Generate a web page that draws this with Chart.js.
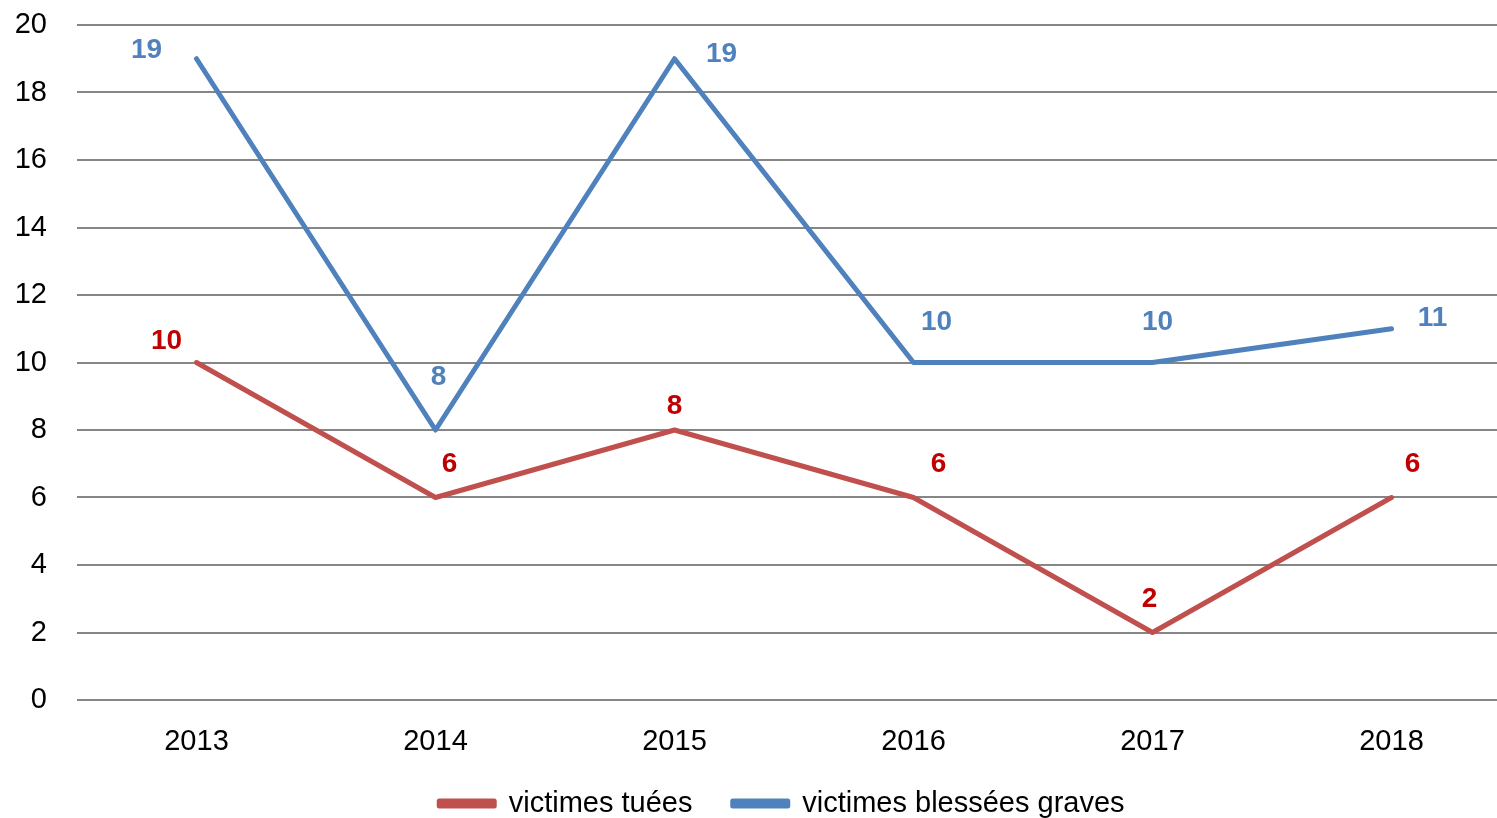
<!DOCTYPE html>
<html>
<head>
<meta charset="utf-8">
<script src="https://cdn.jsdelivr.net/npm/chart.js@4"></script>
<style>
  html, body { margin:0; padding:0; background:#fff; overflow:hidden; }
  #wrap { width:1511px; height:828px; position:relative; }
</style>
</head>
<body>
<div id="wrap"><canvas id="lineChart"></canvas></div>
<script>
// data
const years = ['2013', '2014', '2015', '2016', '2017', '2018'];
const tuees = [10, 6, 8, 6, 2, 6];
const blessees = [19, 8, 19, 10, 10, 11];
const yTicks = [0, 2, 4, 6, 8, 10, 12, 14, 16, 18, 20];

// where each value label sits relative to its point (px)
const labelOffsets = [
  [[-30,-21],[14,-33],[0,-24],[25,-33],[-3,-33],[21,-33]],
  [[-50,-8],[3,-53],[47,-4],[23,-40],[5,-40],[41,-10]]
];
const labelColors = ['#C00000', '#4F81BD'];

const FONT = "'Liberation Sans', Arial, sans-serif";

const valueLabels = {
  id: 'valueLabels',
  afterDatasetsDraw(chart){
    const ctx = chart.ctx;
    ctx.save();
    ctx.font = `bold 28px ${FONT}`;
    ctx.textAlign = 'center';
    ctx.textBaseline = 'middle';
    chart.data.datasets.forEach((ds, i) => {
      const meta = chart.getDatasetMeta(i);
      ctx.fillStyle = labelColors[i];
      meta.data.forEach((pt, j) => {
        const off = labelOffsets[i][j];
        ctx.fillText(String(ds.data[j]), pt.x + off[0], pt.y + off[1]);
      });
    });
    ctx.restore();
  }
};

const ctx = document.getElementById('lineChart').getContext('2d');
new Chart(ctx, {
  type: 'line',
  data: {
    labels: years,
    datasets: [
      { label: 'victimes tuées', data: tuees, borderColor: '#C0504D', backgroundColor: '#C0504D',
        borderWidth: 5, pointRadius: 0, tension: 0, borderCapStyle: 'round', borderJoinStyle: 'round' },
      { label: 'victimes blessées graves', data: blessees, borderColor: '#4F81BD', backgroundColor: '#4F81BD',
        borderWidth: 5, pointRadius: 0, tension: 0, borderCapStyle: 'round', borderJoinStyle: 'round' }
    ]
  },
  options: {
    responsive: true,
    maintainAspectRatio: false,
    animation: false,
    layout: { padding: { top: 25, right: 0, left: 0, bottom: 0 } },
    plugins: {
      tooltip: { enabled: false },
      legend: {
        position: 'bottom',
        fullSize: false,
        labels: {
          font: { family: FONT, size: 29 },
          color: '#000',
          boxWidth: 55,
          boxHeight: 5,
          padding: 0,
          generateLabels(chart){
            const items = Chart.defaults.plugins.legend.labels.generateLabels(chart);
            items[0].text = items[0].text + '     ';
            items[1].text = items[1].text + '   ';
            return items;
          }
        }
      }
    },
    scales: {
      x: {
        offset: true,
        afterFit(scale){ scale.height = 89; },
        grid: { display: false, drawTicks: false },
        border: { display: false },
        ticks: { font: { family: FONT, size: 29 }, color: '#000', padding: 25, maxRotation: 0 }
      },
      y: {
        min: 0, max: 20,
        afterFit(scale){ scale.width = 77; scale.paddingTop = 0; scale.paddingBottom = 0; },
        afterBuildTicks(scale){ scale.ticks = yTicks.map(v => ({ value: v })); },
        grid: { color: '#868686', lineWidth: 2, drawTicks: false },
        border: { display: false },
        ticks: { font: { family: FONT, size: 29 }, color: '#000', padding: 30 }
      }
    }
  },
  plugins: [valueLabels]
});
</script>
</body>
</html>
